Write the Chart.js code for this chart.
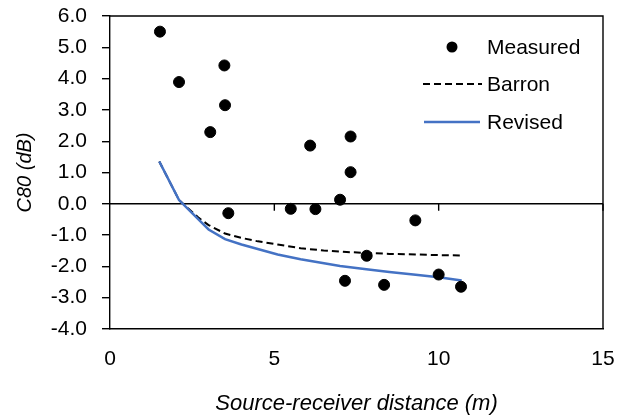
<!DOCTYPE html>
<html>
<head>
<meta charset="utf-8">
<script src="https://cdn.jsdelivr.net/npm/chart.js@4"></script>
<style>
  html, body { margin: 0; padding: 0; background: #fff; }
  #wrap { width: 628px; height: 417px; }
</style>
</head>
<body>
<div id="wrap"><canvas id="myChart" width="628" height="417"></canvas></div>
<script>
// datos
const measuredX = [1.52, 2.10, 3.05, 3.48, 3.50, 3.60, 5.50, 6.09, 6.25, 7.00, 7.15, 7.32, 7.32, 7.81, 8.34, 9.29, 10.0, 10.68];
const measuredY = [5.50, 3.89, 2.29, 4.42, 3.15, -0.30, -0.16, 1.86, -0.17, 0.13, -2.46, 2.15, 1.01, -1.66, -2.59, -0.53, -2.26, -2.65];

const barronX = [1.5, 2.1, 2.7, 3.0, 3.5, 4.0, 4.5, 5.1, 5.8, 6.5, 7.2, 7.8, 8.5, 9.3, 10.0, 10.7];
const barronY = [1.35, 0.12, -0.45, -0.68, -0.95, -1.09, -1.20, -1.30, -1.42, -1.49, -1.54, -1.57, -1.60, -1.62, -1.64, -1.65];

const revisedX = [1.5, 2.1, 3.0, 3.5, 4.0, 5.1, 5.8, 7.0, 7.8, 8.5, 9.3, 10.0, 10.7];
const revisedY = [1.35, 0.12, -0.82, -1.13, -1.30, -1.62, -1.77, -1.99, -2.09, -2.18, -2.27, -2.35, -2.45];

const xTicks = [0, 5, 10, 15];
const yTicks = [-4, -3, -2, -1, 0, 1, 2, 3, 4, 5, 6];

const seriesNames = ['Measured', 'Barron', 'Revised'];

const BLUE = '#4472C4';
const FONT = '"Liberation Sans", Arial, sans-serif';

function toPoints(xs, ys) {
    return xs.map((x, i) => ({ x: x, y: ys[i] }));
}

// marco, linea del cero y leyenda
const extras = {
    id: 'extras',
    beforeDatasetsDraw(chart) {
        const { ctx, chartArea } = chart;
        const xs = chart.scales.x, ys = chart.scales.y;
        ctx.save();
        ctx.strokeStyle = '#000';
        ctx.lineWidth = 1.4;
        // borde superior y derecho
        ctx.beginPath();
        ctx.moveTo(chartArea.left, chartArea.top);
        ctx.lineTo(chartArea.right, chartArea.top);
        ctx.lineTo(chartArea.right, chartArea.bottom);
        ctx.stroke();
        // eje x cruzando en cero
        const y0 = ys.getPixelForValue(0);
        ctx.beginPath();
        ctx.moveTo(chartArea.left, y0);
        ctx.lineTo(chartArea.right, y0);
        xTicks.forEach(v => {
            if (v === 0) return;
            const px = xs.getPixelForValue(v);
            ctx.moveTo(px, y0);
            ctx.lineTo(px, y0 + 7);
        });
        ctx.stroke();
        ctx.restore();
    },
    afterDraw(chart) {
        const { ctx, chartArea } = chart;
        const lx = chartArea.right - 180;
        const tx = chartArea.right - 116;
        const rows = [chartArea.top + 31, chartArea.top + 68, chartArea.top + 106];
        ctx.save();
        // Measured
        ctx.fillStyle = '#000';
        ctx.beginPath();
        ctx.arc(lx + 29, rows[0], 5.5, 0, Math.PI * 2);
        ctx.fill();
        // Barron
        ctx.strokeStyle = '#000';
        ctx.lineWidth = 2;
        ctx.setLineDash([7, 4]);
        ctx.beginPath();
        ctx.moveTo(lx, rows[1]);
        ctx.lineTo(lx + 59, rows[1]);
        ctx.stroke();
        // Revised
        ctx.setLineDash([]);
        ctx.strokeStyle = BLUE;
        ctx.lineWidth = 2.5;
        ctx.beginPath();
        ctx.moveTo(lx + 1, rows[2]);
        ctx.lineTo(lx + 57, rows[2]);
        ctx.stroke();
        // textos
        ctx.fillStyle = '#000';
        ctx.font = '21px ' + FONT;
        ctx.textBaseline = 'middle';
        ctx.textAlign = 'left';
        seriesNames.forEach((name, i) => ctx.fillText(name, tx, rows[i] + 1));
        ctx.restore();
    }
};

const ctx = document.getElementById('myChart').getContext('2d');

const myChart = new Chart(ctx, {
    type: 'scatter',
    data: {
        datasets: [
            {
                label: seriesNames[0],
                data: toPoints(measuredX, measuredY),
                backgroundColor: '#000',
                borderColor: '#000',
                pointRadius: 5.5,
                pointHoverRadius: 5.5,
                showLine: false
            },
            {
                label: seriesNames[2],
                data: toPoints(revisedX, revisedY),
                borderColor: BLUE,
                borderWidth: 2.5,
                pointRadius: 0,
                showLine: true,
                tension: 0
            },
            {
                label: seriesNames[1],
                data: toPoints(barronX, barronY),
                borderColor: '#000',
                borderWidth: 2,
                borderDash: [7, 4],
                pointRadius: 0,
                showLine: true,
                tension: 0
            }
        ]
    },
    options: {
        responsive: false,
        animation: false,
        layout: {
            padding: { left: 0, right: 25, top: 16, bottom: 0 }
        },
        plugins: {
            legend: { display: false },
            tooltip: { enabled: false }
        },
        scales: {
            x: {
                type: 'linear',
                min: 0,
                max: 15,
                afterBuildTicks: (scale) => { scale.ticks = xTicks.map(v => ({ value: v })); },
                afterFit: (scale) => {
                    scale.height = 88;
                    scale.paddingLeft = 0;
                    scale.paddingRight = 0;
                },
                grid: { display: false, drawTicks: false },
                border: { display: true, color: '#000', width: 1.4 },
                ticks: {
                    color: '#000',
                    padding: 18,
                    font: { family: FONT, size: 21 },
                    maxRotation: 0
                },
                title: {
                    display: true,
                    text: 'Source-receiver distance (m)',
                    color: '#000',
                    font: { family: FONT, size: 22, style: 'italic' },
                    padding: { top: 0, bottom: 0 }
                }
            },
            y: {
                type: 'linear',
                min: -4,
                max: 6,
                afterBuildTicks: (scale) => { scale.ticks = yTicks.map(v => ({ value: v })); },
                afterFit: (scale) => {
                    scale.width = 110;
                    scale.paddingTop = 0;
                    scale.paddingBottom = 0;
                },
                grid: {
                    display: true,
                    drawOnChartArea: false,
                    drawTicks: true,
                    tickLength: 8,
                    color: '#000',
                    lineWidth: 1.4
                },
                border: { display: true, color: '#000', width: 1.4 },
                ticks: {
                    color: '#000',
                    padding: 15,
                    font: { family: FONT, size: 21 },
                    callback: (v) => Number(v).toFixed(1)
                },
                title: {
                    display: true,
                    text: 'C80 (dB)',
                    color: '#000',
                    font: { family: FONT, size: 20, style: 'italic' },
                    padding: { top: 13, bottom: 0 }
                }
            }
        }
    },
    plugins: [extras]
});
</script>
</body>
</html>
